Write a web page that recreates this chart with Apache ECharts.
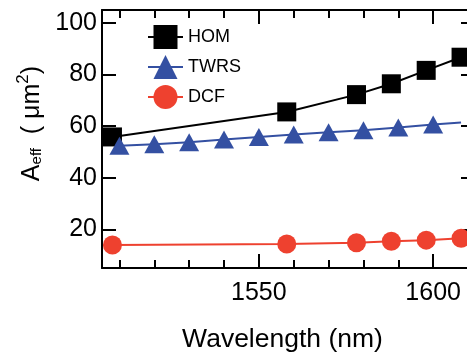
<!DOCTYPE html>
<html>
<head>
<meta charset="utf-8">
<script src="https://cdn.jsdelivr.net/npm/echarts@6/dist/echarts.min.js"></script>
<style>
html,body{margin:0;padding:0;background:#fff;}
#chart{width:467px;height:356px;}
</style>
</head>
<body>
<div id="chart"></div>
<script>
// ---- data ----
const homWavelength = [1508, 1558, 1578, 1588, 1598, 1608];
const homValues = [55.8, 65.5, 72.2, 76.4, 81.6, 86.7];
const twrsWavelength = [1510, 1520, 1530, 1540, 1550, 1560, 1570, 1580, 1590, 1600, 1608];
const twrsValues = [52.4, 53.0, 53.7, 54.8, 55.8, 56.7, 57.6, 58.4, 59.5, 60.6, 61.4];
const dcfWavelength = [1508, 1558, 1578, 1588, 1598, 1608];
const dcfValues = [13.9, 14.3, 14.8, 15.4, 15.8, 16.5];
const xMajorTicks = [1550, 1600];
const xMinorTicks = [1510, 1520, 1530, 1540, 1560, 1570, 1580, 1590, 1610];
const yTicks = [20, 40, 60, 80, 100];
const seriesNames = ['HOM', 'TWRS', 'DCF'];

const FONT = '"Liberation Sans", Arial, Helvetica, sans-serif';
const XMIN = 1505, XMAX = 1612, YMIN = 5, YMAX = 105;

function pairs(xs, ys) { return xs.map((x, i) => [x, ys[i]]); }
const plain = v => String(v);

const chart = echarts.init(document.getElementById('chart'), null, {renderer: 'canvas'});

function xAxis(pos, ticks, len, showLine, labels, extra) {
  return Object.assign({
    type: 'value', position: pos, min: XMIN, max: XMAX,
    splitLine: {show: false},
    axisLine: {show: showLine, onZero: false, lineStyle: {color: '#000', width: 2}},
    axisTick: {show: true, inside: true, length: len, customValues: ticks, lineStyle: {color: '#000', width: 2}},
    axisLabel: labels ? {show: true, customValues: ticks, formatter: plain, fontSize: 25, color: '#000', fontFamily: FONT, margin: 13} : {show: false}
  }, extra || {});
}
function yAxis(pos, labels, extra) {
  return Object.assign({
    type: 'value', position: pos, min: YMIN, max: YMAX,
    splitLine: {show: false},
    axisLine: {show: true, onZero: false, lineStyle: {color: '#000', width: 2}},
    axisTick: {show: true, inside: true, length: 14, customValues: yTicks, lineStyle: {color: '#000', width: 2}},
    axisLabel: labels ? {show: true, customValues: yTicks, formatter: plain, fontSize: 25, color: '#000', fontFamily: FONT, margin: 5} : {show: false}
  }, extra || {});
}

const option = {
  animation: false,
  backgroundColor: '#fff',
  grid: {left: 102, top: 10, width: 373, height: 258, containLabel: false, outerBoundsMode: 'none'},
  legend: {
    left: 142, top: 20, orient: 'vertical',
    itemWidth: 35, itemHeight: 30, itemGap: 6,
    data: seriesNames,
    textStyle: {fontSize: 18, color: '#000', fontFamily: FONT}
  },
  xAxis: [
    xAxis('bottom', xMajorTicks, 14, true, true, {
      name: 'Wavelength (nm)', nameLocation: 'middle', nameGap: 58,
      nameTextStyle: {fontSize: 26.5, color: '#000', fontFamily: FONT, padding: [0, 12, 0, 0]}
    }),
    xAxis('bottom', xMinorTicks, 8, false, false),
    xAxis('top', xMajorTicks, 14, true, false),
    xAxis('top', xMinorTicks, 8, false, false)
  ],
  yAxis: [
    yAxis('left', true, {
      name: '{a|A}{s|eff}{a|  ( μm}{p|2}{a|)}',
      nameLocation: 'middle', nameRotate: 90, nameGap: 57,
      nameTextStyle: {
        fontFamily: FONT, color: '#000', padding: [0, 0, 0, 31],
        rich: {
          a: {fontSize: 25, fontFamily: FONT, color: '#000', verticalAlign: 'bottom', lineHeight: 30},
          s: {fontSize: 15, fontFamily: FONT, color: '#000', verticalAlign: 'bottom', lineHeight: 30},
          p: {fontSize: 17, fontFamily: FONT, color: '#000', verticalAlign: 'top', lineHeight: 30}
        }
      }
    }),
    yAxis('right', false)
  ],
  series: [
    {
      name: 'HOM', type: 'line', xAxisIndex: 0, yAxisIndex: 0,
      data: pairs(homWavelength, homValues),
      symbol: 'rect', symbolSize: 19,
      lineStyle: {color: '#000', width: 2}, itemStyle: {color: '#000'}, z: 2
    },
    {
      name: 'TWRS', type: 'line', xAxisIndex: 0, yAxisIndex: 0,
      data: pairs(twrsWavelength, twrsValues).map((p, i) =>
        i === twrsWavelength.length - 1 ? {value: p, symbol: 'none'} : p),
      symbol: 'triangle', symbolSize: [20, 18],
      lineStyle: {color: '#3450A2', width: 2}, itemStyle: {color: '#3450A2'}, z: 3
    },
    {
      name: 'DCF', type: 'line', xAxisIndex: 0, yAxisIndex: 0,
      data: pairs(dcfWavelength, dcfValues),
      symbol: 'circle', symbolSize: 19,
      lineStyle: {color: '#EE412F', width: 2}, itemStyle: {color: '#EE412F'}, z: 4
    }
  ]
};
chart.setOption(option);
</script>
</body>
</html>
